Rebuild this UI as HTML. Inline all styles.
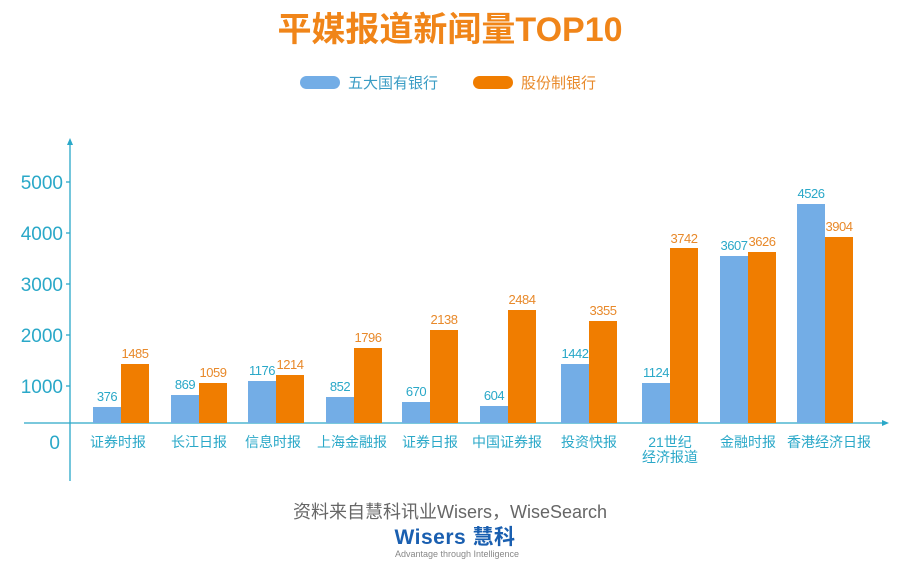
<!DOCTYPE html>
<html><head><meta charset="utf-8"><style>
body{margin:0;background:#fff;}
svg text{font-family:"Liberation Sans","Noto Sans CJK SC",sans-serif;}
</style></head><body>
<svg width="900" height="571" xmlns="http://www.w3.org/2000/svg">
<rect width="900" height="571" fill="#fff"/>
<text x="450" y="41" text-anchor="middle" font-size="34" font-weight="bold" fill="#f08519">平媒报道新闻量TOP10</text>
<rect x="300" y="76" width="40" height="13" rx="6.5" fill="#73ade6"/>
<text x="348" y="88" font-size="15" fill="#3a9cc4">五大国有银行</text>
<rect x="473" y="76" width="40" height="13" rx="6.5" fill="#f07d00"/>
<text x="521" y="88" font-size="15" fill="#e8892a">股份制银行</text>
<g stroke="#2aa8c8" stroke-width="1.3" fill="none">
<line x1="70" y1="141" x2="70" y2="481"/>
<line x1="24" y1="423" x2="885" y2="423"/>
<line x1="66" y1="182" x2="70" y2="182"/><line x1="66" y1="233" x2="70" y2="233"/>
<line x1="66" y1="284" x2="70" y2="284"/><line x1="66" y1="335" x2="70" y2="335"/>
<line x1="66" y1="386" x2="70" y2="386"/>
</g>
<path d="M67,145 L70,138 L73,145Z" fill="#2aa8c8"/>
<path d="M882,420 L889,423 L882,426Z" fill="#2aa8c8"/>
<g font-size="19" fill="#2aa8c8" text-anchor="end">
<text x="63" y="189">5000</text><text x="63" y="240">4000</text><text x="63" y="291">3000</text>
<text x="63" y="342">2000</text><text x="63" y="393">1000</text><text x="60" y="449">0</text>
</g>
<g fill="#73ade6">
<rect x="93" y="407" width="28" height="16"/><rect x="171" y="395" width="28" height="28"/>
<rect x="248" y="381" width="28" height="42"/><rect x="326" y="397" width="28" height="26"/>
<rect x="402" y="402" width="28" height="21"/><rect x="480" y="406" width="28" height="17"/>
<rect x="561" y="364" width="28" height="59"/><rect x="642" y="383" width="28" height="40"/>
<rect x="720" y="256" width="28" height="167"/><rect x="797" y="204" width="28" height="219"/>
</g>
<g fill="#f07d00">
<rect x="121" y="364" width="28" height="59"/><rect x="199" y="383" width="28" height="40"/>
<rect x="276" y="375" width="28" height="48"/><rect x="354" y="348" width="28" height="75"/>
<rect x="430" y="330" width="28" height="93"/><rect x="508" y="310" width="28" height="113"/>
<rect x="589" y="321" width="28" height="102"/><rect x="670" y="248" width="28" height="175"/>
<rect x="748" y="252" width="28" height="171"/><rect x="825" y="237" width="28" height="186"/>
</g>
<g font-size="13" fill="#2aa8c8" text-anchor="middle" letter-spacing="-0.5">
<text x="107" y="401">376</text><text x="185" y="389">869</text><text x="262" y="375">1176</text>
<text x="340" y="391">852</text><text x="416" y="396">670</text><text x="494" y="400">604</text>
<text x="575" y="358">1442</text><text x="656" y="377">1124</text><text x="734" y="250">3607</text>
<text x="811" y="198">4526</text>
</g>
<g font-size="13" fill="#e8892a" text-anchor="middle" letter-spacing="-0.5">
<text x="135" y="358">1485</text><text x="213" y="377">1059</text><text x="290" y="369">1214</text>
<text x="368" y="342">1796</text><text x="444" y="324">2138</text><text x="522" y="304">2484</text>
<text x="603" y="315">3355</text><text x="684" y="243">3742</text><text x="762" y="246">3626</text>
<text x="839" y="231">3904</text>
</g>
<g font-size="14" fill="#2aa8c8" text-anchor="middle">
<text x="118" y="447">证券时报</text><text x="199" y="447">长江日报</text><text x="273" y="447">信息时报</text>
<text x="352" y="447">上海金融报</text><text x="430" y="447">证券日报</text><text x="507" y="447">中国证券报</text>
<text x="589" y="447">投资快报</text><text x="670" y="447">21世纪</text><text x="670" y="462">经济报道</text>
<text x="748" y="447">金融时报</text><text x="829" y="447">香港经济日报</text>
</g>
<text x="450" y="518" text-anchor="middle" font-size="18" fill="#666">资料来自慧科讯业Wisers，WiseSearch</text>
<text x="455" y="544" text-anchor="middle" font-size="21" font-weight="bold" fill="#1a5fb0" letter-spacing="0.5">Wisers 慧科</text>
<text x="457" y="557" text-anchor="middle" font-size="9" fill="#888">Advantage through Intelligence</text>
</svg>
</body></html>
